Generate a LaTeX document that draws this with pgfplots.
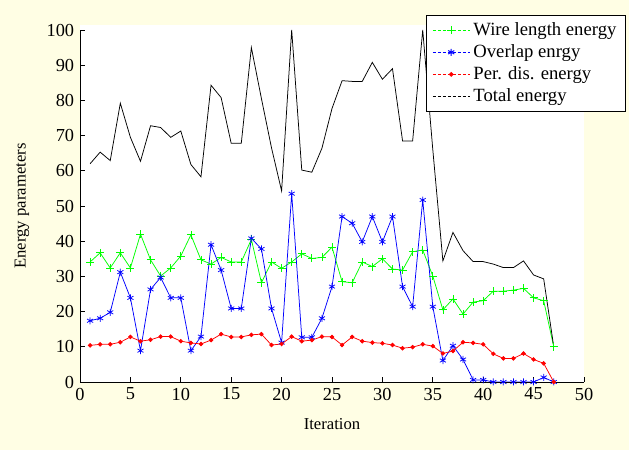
\documentclass[border=0pt]{standalone}
\usepackage{fontspec}
\setmainfont{Liberation Serif}
\usepackage{pgfplots}
\usepackage{pgfplotstable}
\pgfplotsset{compat=1.18}
\definecolor{figbg}{RGB}{255,254,228}

% iteration, wire length, overlap, per. dis., total
\pgfplotstableread{
it wire overlap perdis total
1  34.1 17.4 10.4 62.0
2  36.7 18.1 10.7 65.3
3  32.4 19.8 10.7 62.9
4  36.7 31.2 11.3 79.2
5  32.4 23.9 12.8 69.5
6  42.0  8.9 11.6 62.7
7  34.7 26.3 12.0 72.8
8  30.1 29.7 12.9 72.3
9  32.4 23.9 12.9 69.5
10 35.8 23.9 11.6 71.3
11 41.8  8.9 11.1 61.8
12 34.7 12.9 10.8 58.3
13 33.5 39.0 11.9 84.3
14 35.4 31.8 13.6 80.8
15 34.1 20.9 12.8 67.8
16 34.1 20.9 12.8 67.8
17 40.5 40.8 13.4 95.0
18 28.2 37.8 13.6 80.5
19 34.1 20.9 10.5 66.5
20 32.3 11.2 10.8 54.3
21 34.1 53.5 12.9 100.0
22 36.4 12.7 11.6 60.2
23 35.1 12.7 11.9 59.6
24 35.4 18.1 12.9 66.4
25 38.3 27.1 12.8 77.7
26 28.5 47.0 10.5 85.6
27 28.2 45.1 12.8 85.4
28 34.1 39.8 11.6 85.4
29 32.8 47.0 11.2 90.8
30 35.0 39.8 11.0 86.0
31 32.1 47.0 10.5 89.0
32 31.8 27.1  9.6 68.5
33 37.0 21.4  9.9 68.5
34 37.5 51.7 10.7 100.0
35 30.1 21.4 10.2 66.0
36 20.5  6.1  8.1 34.4
37 23.6 10.3  8.8 42.5
38 19.3  6.4 11.3 37.3
39 22.7  0.6 11.1 34.2
40 23.1  0.6 10.7 34.2
41 25.8  0.0  8.0 33.5
42 25.8  0.0  6.7 32.5
43 26.1  0.0  6.7 32.5
44 26.6  0.0  8.1 34.4
45 23.9  0.0  6.4 30.4
46 23.1  1.3  5.3 29.3
47 10.0  0.0  0.0 10.0
}\energy

\begin{document}
\begin{tikzpicture}
% figure and axes backgrounds
\fill[figbg] (-48pt,-40.8pt) rectangle (329.4pt,229.2pt);
\fill[white] (0pt,0pt) rectangle (302.4pt,214.2pt);
\begin{axis}[
  scale only axis, width=302.4pt, height=211.2pt,
  xmin=0, xmax=50, ymin=0, ymax=100,
  xtick={0,5,...,50}, ytick={0,10,...,100},
  axis x line*=bottom, axis y line*=left,
  axis line style={-, black, line width=0.5pt},
  tick align=inside, major tick length=3pt,
  tick style={black, line width=0.5pt},
  /pgf/number format/assume math mode=true,
  tick label style={font=\fontsize{11}{12}\selectfont},
  label style={font=\fontsize{11}{12}\selectfont},
  xlabel={Iteration}, ylabel={Energy parameters},
  every axis x label/.style={at={(axis description cs:0.5,-0.119)}, anchor=center},
  every axis y label/.style={at={(axis description cs:-0.115,0.5)}, rotate=90, anchor=center},
  legend style={at={(1.0833,1.043)}, anchor=north east, draw=black, fill=white,
    font=\fontsize{11.2}{12}\selectfont, line width=0.5pt, row sep=0pt,
    inner xsep=3.5pt, inner ysep=2.3pt},
  legend cell align=left,
  legend image code/.code={\draw[mark repeat=2,mark phase=2,#1,line width=0.6pt,dash pattern=on 1.8pt off 1.2pt]
    plot coordinates {(0pt,0pt) (11pt,0pt) (22pt,0pt)};},
  every axis plot/.append style={line width=0.45pt},
]
\addplot[green, mark=+, mark size=2.4pt, mark options={solid}] table[x=it, y=wire] {\energy};
\addplot[blue, mark=asterisk, mark size=2.1pt, mark options={solid}] table[x=it, y=overlap] {\energy};
\addplot[red, mark=*, mark size=1.1pt, mark options={solid}] table[x=it, y=perdis] {\energy};
\addplot[black] table[x=it, y=total] {\energy};
\legend{Wire length energy, Overlap enrgy, Per. dis. energy, Total energy}
\end{axis}
\end{tikzpicture}
\end{document}
